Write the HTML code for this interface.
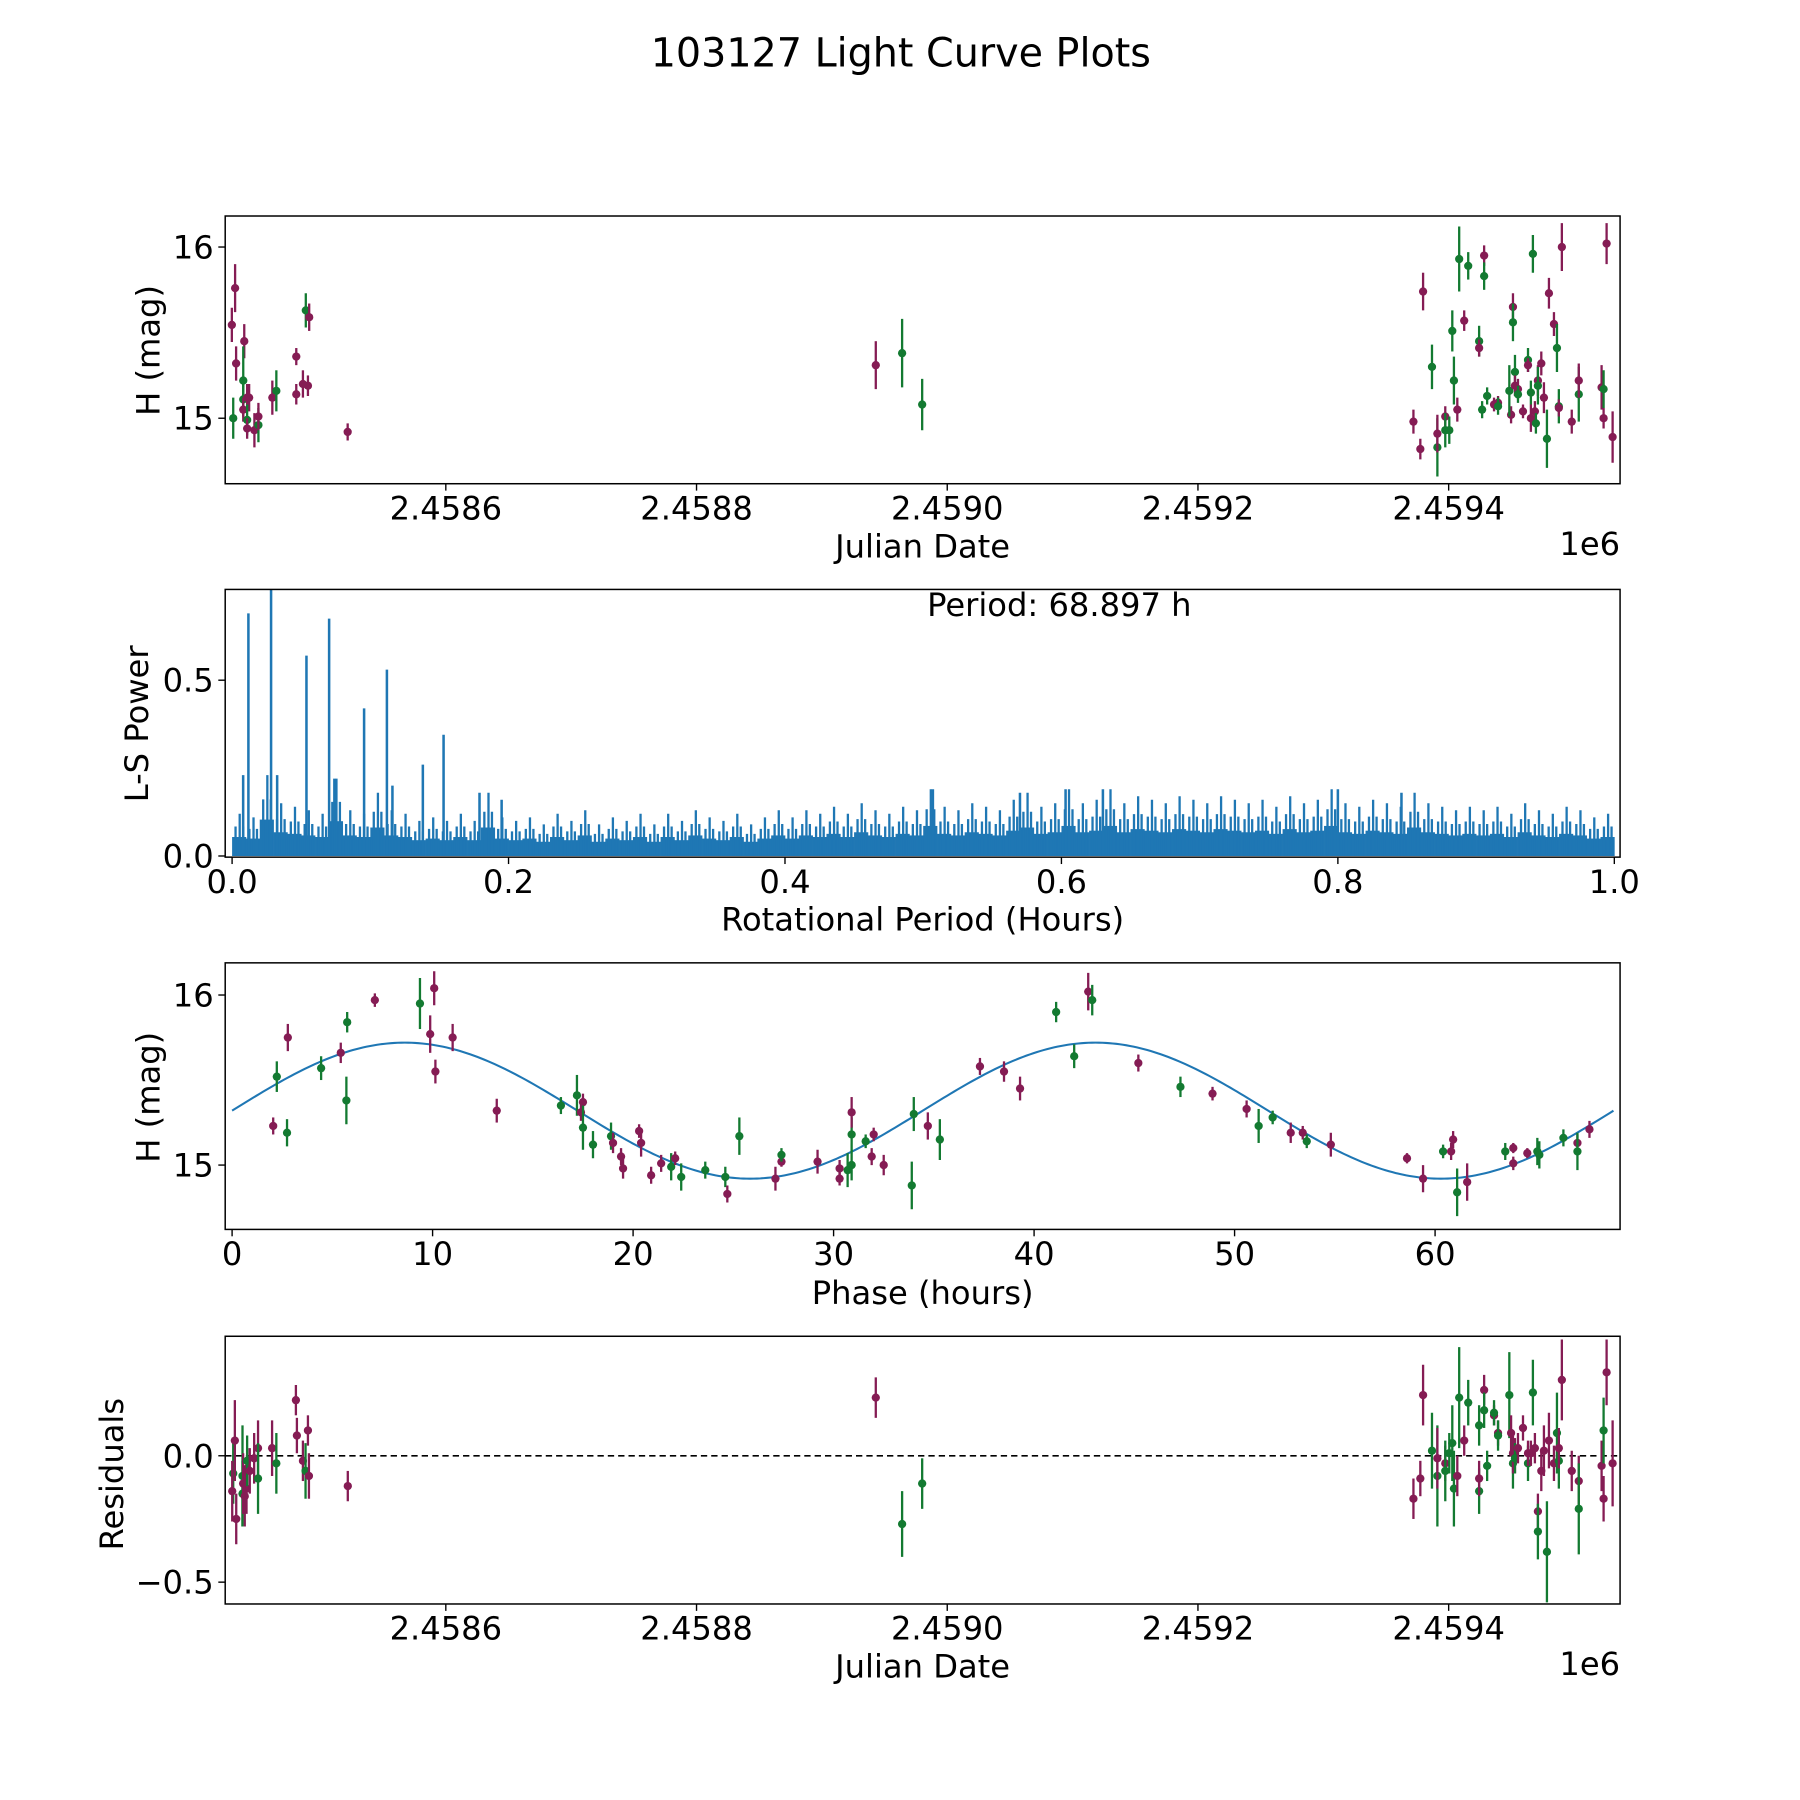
<!DOCTYPE html>
<html><head><meta charset="utf-8"><style>
html,body{margin:0;padding:0;background:#fff}
svg{display:block}
text{font-family:"DejaVu Sans","Liberation Sans",sans-serif;fill:#000}
</style></head><body>
<svg id="fig" xmlns="http://www.w3.org/2000/svg" width="1800" height="1800" viewBox="0 0 1566.6 1566.6">
<rect x="0" y="0" width="1566.6" height="1566.6" fill="#fff"/>
<text x="784" y="58" font-size="34.5" text-anchor="middle">103127 Light Curve Plots</text>
<g id="p1"></g>
<g id="p2"></g>
<g id="p3"></g>
<g id="p4"></g>
</svg>
<script>
// ---------- data ----------
// Panel 1: dates as JD - 2458400
const lcDates=[29.3,31.9,32.7,30.4,39.2,38.4,38.4,38.4,41.5,43.1,41.5,41.5,47.3,50.5,50.5,61.6,64.8,80.7,80.7,86,90,88.3,91,121.7,
543,564,580,
971.9,977.4,979.6,986.7,991,991,997.3,997.3,1000.5,1002.9,1004.2,1006.9,1008.4,1012.4,1015.6,1024.3,1024.3,1026.7,1030.7,1028.3,1028.3,1036.2,1039.4,1039.4,1049.8,1048.4,1051.3,1051.3,1052.9,1052.9,1055.3,1055.3,1059.3,1063.3,1063.3,1065.6,1065.6,1068.8,1069.6,1071.2,1071.2,1073.9,1076,1078.4,1067.2,1080,1084,1086.4,1090.3,1087.9,1087.9,1098.2,1103.8,1103.8,1122,1123.6,1123.6,1126,1130.8];
const lcMags=[15.545,15.76,15.32,15.0,15.45,15.22,15.11,15.05,15.12,15.12,14.99,14.94,14.93,14.96,15.01,15.12,15.16,15.36,15.14,15.2,15.19,15.63,15.59,14.92,
15.31,15.38,15.08,
14.98,14.82,15.74,15.30,14.83,14.91,15.01,14.93,14.93,15.51,15.22,15.05,15.93,15.57,15.89,15.45,15.41,15.05,15.13,15.95,15.83,15.08,15.09,15.07,15.02,15.16,15.65,15.56,15.27,15.19,15.17,15.14,15.04,15.34,15.31,15.15,15.0,15.04,14.97,15.22,15.19,15.32,15.12,14.88,15.96,15.73,15.55,15.41,16.0,15.07,15.06,14.98,15.14,15.22,15.18,15.17,15.0,16.02,14.89];
const lcErrs=[0.1,0.14,0.1,0.12,0.1,0.2,0.1,0.07,0.08,0.08,0.09,0.06,0.1,0.1,0.08,0.1,0.12,0.05,0.06,0.08,0.06,0.1,0.08,0.05,
0.14,0.2,0.15,
0.07,0.06,0.11,0.13,0.17,0.11,0.06,0.1,0.08,0.12,0.14,0.07,0.19,0.06,0.08,0.09,0.05,0.05,0.05,0.06,0.08,0.04,0.04,0.05,0.05,0.15,0.08,0.11,0.1,0.06,0.06,0.05,0.04,0.07,0.04,0.07,0.08,0.06,0.06,0.09,0.11,0.07,0.09,0.17,0.11,0.09,0.07,0.14,0.14,0.1,0.05,0.07,0.16,0.1,0.13,0.11,0.06,0.12,0.15];
const lcBands=['r','r','r','g','r','g','g','r','r','r','g','r','r','g','r','r','g','r','r','r','r','g','r','r',
'r','g','g',
'r','r','r','g','g','r','r','g','g','g','g','r','g','r','g','g','r','g','g','r','g','r','r','g','r','g','r','g','g','r','r','g','r','g','r','g','r','r','g','r','g','r','r','g','g','r','r','g','r','g','r','r','g','r','r','g','r','r','r'];

// Panel 2: Lomb-Scargle periodogram
const lsPeakPeriods=[0.0118,0.0282,0.0538,0.0702,0.0955,0.112,0.138,0.153,0.008,0.0326,0.074,0.116,0.179,0.195,0.507,0.57,0.603,0.63,0.8,0.846];
const lsPeakPowers=[0.69,0.76,0.57,0.675,0.42,0.53,0.26,0.345,0.23,0.23,0.22,0.2,0.18,0.16,0.19,0.18,0.19,0.19,0.19,0.18];
const lsBinMax=[0.12,0.11,0.23,0.15,0.14,0.13,0.12,0.22,0.13,0.12,
0.18,0.13,0.12,0.10,0.11,0.10,0.12,0.10,0.18,0.11,
0.10,0.11,0.09,0.12,0.10,0.13,0.09,0.11,0.10,0.12,
0.09,0.12,0.10,0.13,0.11,0.10,0.12,0.09,0.11,0.13,
0.11,0.13,0.12,0.14,0.12,0.15,0.13,0.12,0.14,0.13,
0.19,0.14,0.13,0.15,0.14,0.13,0.16,0.18,0.14,0.15,
0.19,0.15,0.16,0.19,0.15,0.17,0.16,0.15,0.17,0.16,
0.15,0.17,0.16,0.15,0.16,0.14,0.17,0.15,0.16,0.19,
0.15,0.14,0.16,0.15,0.14,0.18,0.15,0.14,0.13,0.14,
0.13,0.14,0.12,0.15,0.13,0.12,0.14,0.13,0.11,0.12];
const periodLabel="Period: 68.897 h";

// Panel 3: phase folded
const phPhases=[2.05,2.23,2.74,2.78,4.44,5.42,5.74,5.70,7.12,9.37,10.08,9.88,10.14,11.0,13.2,16.4,17.2,17.5,17.4,17.5,18.0,18.9,19.0,19.4,19.5,20.3,20.4,20.9,21.4,21.9,22.1,22.4,23.6,24.6,24.7,25.3,27.1,27.4,27.4,29.2,30.3,30.3,
30.7,30.9,30.9,30.9,31.6,31.9,32.0,32.5,33.9,34.0,34.7,35.3,37.3,38.5,39.3,41.1,42.0,42.7,42.9,45.2,47.3,48.9,50.6,51.2,51.9,52.8,53.4,53.6,54.8,58.6,59.4,60.4,60.8,60.9,61.1,61.6,63.5,63.9,63.9,64.6,65.1,65.2,66.4,67.1,67.1,67.7];
const phMags=[15.23,15.52,15.19,15.75,15.57,15.66,15.84,15.38,15.97,15.95,16.04,15.77,15.55,15.75,15.32,15.35,15.41,15.37,15.31,15.22,15.12,15.17,15.13,15.05,14.98,15.2,15.13,14.94,15.01,14.99,15.04,14.93,14.97,14.93,14.83,15.17,14.92,15.02,15.06,15.02,14.98,14.92,
14.97,15.0,15.18,15.31,15.14,15.05,15.18,15.0,14.88,15.30,15.23,15.15,15.58,15.55,15.45,15.90,15.64,16.02,15.97,15.6,15.46,15.42,15.33,15.23,15.28,15.19,15.19,15.14,15.12,15.04,14.92,15.08,15.08,15.15,14.84,14.90,15.08,15.10,15.01,15.07,15.08,15.06,15.16,15.13,15.08,15.21];
const phErrs=[0.05,0.09,0.08,0.08,0.07,0.06,0.06,0.14,0.04,0.15,0.1,0.11,0.07,0.08,0.07,0.05,0.12,0.05,0.05,0.13,0.08,0.08,0.06,0.05,0.06,0.04,0.08,0.05,0.05,0.08,0.04,0.08,0.05,0.06,0.05,0.11,0.07,0.03,0.04,0.07,0.05,0.04,
0.1,0.09,0.1,0.09,0.04,0.05,0.04,0.06,0.14,0.1,0.08,0.12,0.05,0.06,0.07,0.06,0.07,0.11,0.09,0.05,0.06,0.04,0.05,0.1,0.04,0.06,0.04,0.04,0.07,0.03,0.08,0.04,0.05,0.05,0.14,0.11,0.05,0.03,0.04,0.03,0.08,0.08,0.05,0.05,0.11,0.05];
const phBands=['r','g','g','r','g','r','g','g','r','g','r','r','r','r','r','g','g','r','r','g','g','g','r','r','r','r','r','r','r','g','r','g','g','g','r','g','r','r','g','r','r','r',
'g','g','g','r','g','r','r','r','g','g','r','g','r','r','r','g','g','r','g','r','g','r','r','g','g','r','r','g','r','r','r','g','r','r','g','r','g','r','r','r','g','g','g','r','g','r'];
const fitPeriod=34.45, fitMean=15.32, fitAmp=0.40, foldPeriod=68.897;

// Panel 4: residuals (JD - 2458400)
const resDates=[30.4,29.6,31.7,32.8,37.8,37.8,38.3,39.6,41,41.5,41.5,43.6,47.1,50.2,50.2,61.4,64.8,80.4,81.2,86,88.1,90,90.8,121.8,
543,564,580,
971.9,977.4,979.6,986.7,991,991,997.3,997.3,1000.5,1002.9,1004.2,1006.9,1008.4,1012.4,1015.6,1024.3,1024.3,1024.3,1028.3,1028.3,1030.7,1036.2,1036.2,1039.4,1039.4,1048.4,1049.8,1051.3,1051.3,1052.9,1052.9,1055.3,1059.3,1063.3,1063.3,1065.6,1067.2,1068.8,1071.2,1071.2,1073.9,1076,1078.4,1080,1084,1086.4,1087.9,1087.9,1090.3,1098.2,1103.8,1103.8,1122,1123.6,1123.6,1126,1130.8];
const resVals=[-0.07,-0.14,0.06,-0.25,-0.08,-0.15,-0.11,-0.16,-0.13,-0.05,-0.02,-0.06,-0.01,0.03,-0.09,0.03,-0.03,0.22,0.08,-0.02,-0.06,0.10,-0.08,-0.12,
0.23,-0.27,-0.11,
-0.17,-0.09,0.24,0.02,-0.08,-0.01,-0.03,-0.06,0.01,0.05,-0.13,-0.08,0.23,0.06,0.21,-0.14,-0.09,0.12,0.26,0.18,-0.04,0.16,0.17,0.09,0.08,0.24,0.09,-0.03,0.01,0.0,-0.01,0.03,0.11,-0.03,0.01,0.01,0.25,0.03,-0.22,-0.30,-0.06,0.02,-0.38,0.06,-0.03,0.09,-0.02,0.03,0.30,-0.06,-0.10,-0.21,-0.04,0.10,-0.17,0.33,-0.03];
const resErrs=[0.12,0.12,0.16,0.1,0.2,0.13,0.12,0.12,0.1,0.08,0.1,0.09,0.1,0.11,0.14,0.11,0.12,0.06,0.07,0.08,0.11,0.06,0.09,0.06,
0.08,0.13,0.1,
0.08,0.07,0.12,0.15,0.2,0.12,0.07,0.12,0.08,0.15,0.15,0.08,0.2,0.06,0.09,0.09,0.07,0.08,0.06,0.07,0.06,0.04,0.05,0.05,0.06,0.17,0.07,0.1,0.08,0.07,0.06,0.06,0.05,0.07,0.05,0.05,0.13,0.06,0.07,0.11,0.08,0.1,0.2,0.11,0.07,0.16,0.11,0.08,0.16,0.08,0.1,0.18,0.1,0.13,0.09,0.13,0.17];
const resBands=['g','r','r','r','g','g','r','r','r','r','g','r','r','r','g','r','g','r','r','r','g','r','r','r',
'r','g','g',
'r','r','r','g','g','r','r','g','g','g','g','r','g','r','g','g','r','g','r','g','g','r','g','r','g','g','r','g','r','r','g','r','r','g','r','r','g','r','r','g','r','r','g','r','r','g','g','r','r','r','r','g','r','g','r','r','r'];

const jdTicks=[200,400,600,800,1000];
const jdTickLabels=['2.4586','2.4588','2.4590','2.4592','2.4594'];
const magTicks=[16,15];
const magTickLabels=['16','15'];
const lsXTicks=[0,0.2,0.4,0.6,0.8,1.0];
const lsXTickLabels=['0.0','0.2','0.4','0.6','0.8','1.0'];
const lsYTicks=[0,0.5];
const lsYTickLabels=['0.0','0.5'];
const phTicks=[0,10,20,30,40,50,60];
const phTickLabels=['0','10','20','30','40','50','60'];
const resTicks=[0,-0.5];
const resTickLabels=['0.0','\u22120.5'];

// ---------- drawing ----------
const NS='http://www.w3.org/2000/svg';
const COL={r:'#851c54',g:'#137a31'};
function mk(parent,tag,attrs){const e=document.createElementNS(NS,tag);for(const k in attrs)e.setAttribute(k,attrs[k]);parent.appendChild(e);return e;}
const L=196,R=1410;
const jdX=o=>L+(o-24)*1.091;
const P1={top:188,bot:421,y:m=>215+(16-m)*149};
const P2={top:513,bot:746,x:p=>202+p*1203,y:v=>745-v*306};
const P3={top:838,bot:1070,x:p=>202+p*17.45,y:m=>866+(16-m)*148};
const P4={top:1163,bot:1396,y:r=>1267-r*220};

function frame(g,top,bot){
  const f=mk(g,'rect',{x:L,y:top,width:R-L,height:bot-top,fill:'none',stroke:'#000','stroke-width':1.3});
  
  
}
function xticks(g,bot,vals,labels,fx){
  vals.forEach((v,i)=>{const x=fx(v);
    const t=mk(g,'line',{x1:x,x2:x,y1:bot,y2:bot+6,stroke:'#000','stroke-width':1.2});
    
    
    const tl=mk(g,'text',{x:x,y:bot+31,'font-size':28,'text-anchor':'middle'});tl.textContent=labels[i];
    
    
  });
}
function yticks(g,vals,labels,fy){
  vals.forEach((v,i)=>{const y=fy(v);
    const t=mk(g,'line',{x1:L-6,x2:L,y1:y,y2:y,stroke:'#000','stroke-width':1.2});
    
    
    const tl=mk(g,'text',{x:L-10,y:y+10,'font-size':28,'text-anchor':'end'});tl.textContent=labels[i];
    
    
  });
}
function label(g,txt,x,y,rot,name){
  const t=mk(g,'text',{x:x,y:y,'font-size':28,'text-anchor':'middle'});
  if(rot)t.setAttribute('transform','rotate(-90 '+x+' '+y+')');
  t.textContent=txt;
  
  
}
function clipFor(g,id,top,bot){
  const svg=document.getElementById('fig');
  let defs=svg.querySelector('defs');if(!defs)defs=mk(svg,'defs',{});
  const cp=mk(defs,'clipPath',{id:id});mk(cp,'rect',{x:L,y:top,width:R-L,height:bot-top});
  return mk(g,'g',{'clip-path':'url(#'+id+')'});
}
function errpoints(g,xs,ys,es,bs,fx,fy){
  for(let i=0;i<xs.length;i++){
    const x=fx(xs[i]),c=COL[bs[i]];
    const eb=mk(g,'line',{x1:x,x2:x,y1:fy(ys[i]-es[i]),y2:fy(ys[i]+es[i]),stroke:c,'stroke-width':2});
    
    
    const p=mk(g,'circle',{cx:x,cy:fy(ys[i]),r:3.6,fill:c});
    
    
  }
}

// Panel 1
(function(){const g=document.getElementById('p1');
  const c=clipFor(g,'c1',P1.top,P1.bot);
  errpoints(c,lcDates,lcMags,lcErrs,lcBands,jdX,P1.y);
  frame(g,P1.top,P1.bot);
  xticks(g,P1.bot,jdTicks,jdTickLabels,jdX);
  yticks(g,magTicks,magTickLabels,P1.y);
  label(g,'Julian Date',803,485,false,'x-axis-title');
  label(g,'H (mag)',139,305,true,'y-axis-title');
  const o=mk(g,'text',{x:1410,y:483,'font-size':28,'text-anchor':'end'});o.textContent='1e6';
  
  
})();

// Panel 2
(function(){const g=document.getElementById('p2');
  const c=clipFor(g,'c2',P2.top,P2.bot);
  const n=lsBinMax.length,w=1/n;
  for(let i=0;i<n;i++){
    const x0=P2.x(i*w),x1=P2.x((i+1)*w),v=lsBinMax[i];
    const r=mk(c,'rect',{x:x0,y:P2.y(v*0.45),width:x1-x0+0.3,height:P2.y(0)-P2.y(v*0.45),fill:'#1f77b4'});
    
    
    [0.25,0.55,0.8].forEach((f,k)=>{const xx=P2.x((i+f)*w);const vv=v*(k===1?1:0.7);
      const s=mk(c,'line',{x1:xx,x2:xx,y1:P2.y(0),y2:P2.y(vv),stroke:'#1f77b4','stroke-width':2});
      
      
    });
  }
  lsPeakPeriods.forEach((p,i)=>{const x=P2.x(p);
    const s=mk(c,'line',{x1:x,x2:x,y1:P2.y(0),y2:P2.y(lsPeakPowers[i]),stroke:'#1f77b4','stroke-width':2.2});
    
    
  });
  frame(g,P2.top,P2.bot);
  xticks(g,P2.bot,lsXTicks,lsXTickLabels,P2.x);
  yticks(g,lsYTicks,lsYTickLabels,P2.y);
  label(g,'Rotational Period (Hours)',803,810,false,'x-axis-title');
  label(g,'L-S Power',129,630,true,'y-axis-title');
  const t=mk(g,'text',{x:922,y:536,'font-size':28,'text-anchor':'middle'});t.textContent=periodLabel;
  
  
})();

// Panel 3
(function(){const g=document.getElementById('p3');
  const c=clipFor(g,'c3',P3.top,P3.bot);
  let d='';
  for(let k=0;k<=400;k++){const ph=foldPeriod*k/400;
    const m=fitMean+fitAmp*Math.sin(2*Math.PI*ph/fitPeriod);
    d+=(k?'L':'M')+P3.x(ph).toFixed(2)+','+P3.y(m).toFixed(2);}
  const fl=mk(c,'path',{d:d,fill:'none',stroke:'#1f77b4','stroke-width':1.8});
  
  
  errpoints(c,phPhases,phMags,phErrs,phBands,P3.x,P3.y);
  frame(g,P3.top,P3.bot);
  xticks(g,P3.bot,phTicks,phTickLabels,P3.x);
  yticks(g,magTicks,magTickLabels,P3.y);
  label(g,'Phase (hours)',803,1135,false,'x-axis-title');
  label(g,'H (mag)',139,955,true,'y-axis-title');
})();

// Panel 4
(function(){const g=document.getElementById('p4');
  const c=clipFor(g,'c4',P4.top,P4.bot);
  const z=mk(c,'line',{x1:L,x2:R,y1:P4.y(0),y2:P4.y(0),stroke:'#000','stroke-width':1.4,'stroke-dasharray':'5.5,3.5'});
  
  
  errpoints(c,resDates,resVals,resErrs,resBands,jdX,P4.y);
  frame(g,P4.top,P4.bot);
  xticks(g,P4.bot,jdTicks,jdTickLabels,jdX);
  yticks(g,resTicks,resTickLabels,P4.y);
  label(g,'Julian Date',803,1460,false,'x-axis-title');
  label(g,'Residuals',107,1283,true,'y-axis-title');
  const o=mk(g,'text',{x:1410,y:1458,'font-size':28,'text-anchor':'end'});o.textContent='1e6';
  
  
})();
</script>
</body></html>
